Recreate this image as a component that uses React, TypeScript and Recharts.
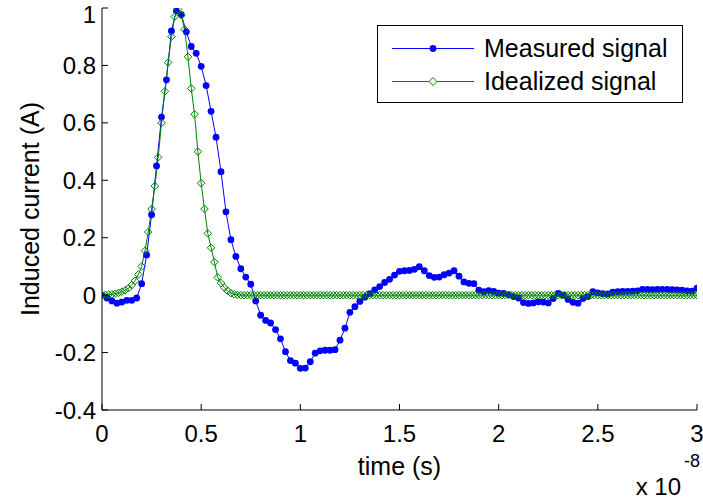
import React from 'react';
import { LineChart, Line, XAxis, YAxis, Label } from 'recharts';

// sampling steps (units of 1e-8 s)
const MEASURED_STEP = 0.025;
const IDEAL_STEP = 1 / 60;

const measuredValues = [
  0.0, -0.01, -0.02, -0.028, -0.024, -0.018, -0.018, -0.01, 0.04, 0.14,
  0.28, 0.45, 0.62, 0.75, 0.92, 0.99, 0.977, 0.917, 0.866, 0.842,
  0.797, 0.73, 0.64, 0.55, 0.43, 0.29, 0.193, 0.135, 0.092, 0.063,
  0.038, -0.02, -0.07, -0.088, -0.097, -0.12, -0.152, -0.197, -0.228, -0.237,
  -0.255, -0.254, -0.232, -0.202, -0.194, -0.192, -0.192, -0.19, -0.157, -0.115,
  -0.06, -0.04, -0.022, -0.007, 0.005, 0.018, 0.03, 0.044, 0.055, 0.07,
  0.083, 0.085, 0.086, 0.09, 0.099, 0.085, 0.068, 0.062, 0.063, 0.071,
  0.077, 0.085, 0.066, 0.046, 0.041, 0.04, 0.017, 0.012, 0.016, 0.013,
  0.007, 0.006, 0.002, -0.005, -0.01, -0.026, -0.029, -0.027, -0.023, -0.024,
  -0.027, -0.012, 0.006, 0.0, -0.015, -0.025, -0.028, -0.012, -0.005, 0.012,
  0.008, 0.005, 0.004, 0.01, 0.012, 0.013, 0.013, 0.014, 0.015, 0.02,
  0.02, 0.019, 0.02, 0.02, 0.02, 0.019, 0.018, 0.017, 0.015, 0.014,
  0.024,
];

const idealValues = [
  0, 0.001, 0.002, 0.003, 0.005, 0.008, 0.012, 0.017, 0.024, 0.035,
  0.05, 0.072, 0.1, 0.155, 0.22, 0.3, 0.38, 0.48, 0.6, 0.71,
  0.81, 0.9, 0.97, 0.995, 0.975, 0.925, 0.83, 0.72, 0.63, 0.5,
  0.39, 0.3, 0.215, 0.165, 0.115, 0.062, 0.042, 0.026, 0.015, 0.007,
  0.003, 0.001, 0, 0, 0, 0, 0, 0, 0, 0,
  0, 0, 0, 0, 0, 0, 0, 0, 0, 0,
  0, 0, 0, 0, 0, 0, 0, 0, 0, 0,
  0, 0, 0, 0, 0, 0, 0, 0, 0, 0,
  0, 0, 0, 0, 0, 0, 0, 0, 0, 0,
  0, 0, 0, 0, 0, 0, 0, 0, 0, 0,
  0, 0, 0, 0, 0, 0, 0, 0, 0, 0,
  0, 0, 0, 0, 0, 0, 0, 0, 0, 0,
  0, 0, 0, 0, 0, 0, 0, 0, 0, 0,
  0, 0, 0, 0, 0, 0, 0, 0, 0, 0,
  0, 0, 0, 0, 0, 0, 0, 0, 0, 0,
  0, 0, 0, 0, 0, 0, 0, 0, 0, 0,
  0, 0, 0, 0, 0, 0, 0, 0, 0, 0,
  0, 0, 0, 0, 0, 0, 0, 0, 0, 0,
  0,
];

const xTicks = [0, 0.5, 1, 1.5, 2, 2.5, 3];
const xTickLabels = ['0', '0.5', '1', '1.5', '2', '2.5', '3'];
const yTicks = [-0.4, -0.2, 0, 0.2, 0.4, 0.6, 0.8, 1];
const yTickLabels = ['-0.4', '-0.2', '0', '0.2', '0.4', '0.6', '0.8', '1'];

const measured = measuredValues.map((v, i) => ({ t: i * MEASURED_STEP, v }));
const idealized = idealValues.map((v, i) => ({ t: i * IDEAL_STEP, v }));

const FONT = '"Liberation Sans", Arial, sans-serif';
const BLUE = '#0000ff';
const GREEN = '#008000';
const TICK_LEN = 6;

const BottomTick = (props: any) => {
  const { x, y, index } = props;
  return (
    <g>
      <line x1={x} y1={y} x2={x} y2={y - TICK_LEN} stroke="#000" />
      <text x={x} y={y + 23} textAnchor="middle" dominantBaseline="central" fontSize={24} fontFamily={FONT} fill="#000">
        {xTickLabels[index]}
      </text>
    </g>
  );
};

const TopTick = (props: any) => {
  const { x, y } = props;
  return <line x1={x} y1={y} x2={x} y2={y + TICK_LEN} stroke="#000" />;
};

const LeftTick = (props: any) => {
  const { x, y, index } = props;
  // keep the top label inside the page
  const ty = Math.max(y, 14);
  return (
    <g>
      <line x1={x} y1={y} x2={x + TICK_LEN} y2={y} stroke="#000" />
      <text x={x - 6} y={ty} textAnchor="end" dominantBaseline="central" fontSize={24} fontFamily={FONT} fill="#000">
        {yTickLabels[index]}
      </text>
    </g>
  );
};

const RightTick = (props: any) => {
  const { x, y } = props;
  return <line x1={x} y1={y} x2={x - TICK_LEN} y2={y} stroke="#000" />;
};

const Diamond = (props: any) => {
  const { cx, cy, index } = props;
  const s = 3.8;
  return (
    <path
      key={`dia-${index}`}
      d={`M${cx},${cy - s}L${cx + s},${cy}L${cx},${cy + s}L${cx - s},${cy}Z`}
      fill="none"
      stroke={GREEN}
      strokeWidth={1}
    />
  );
};

const XLabel = (props: any) => {
  const vb = props.viewBox;
  return (
    <g fontFamily={FONT} fill="#000">
      <text x={vb.x + vb.width / 2} y={vb.y + 56} textAnchor="middle" dominantBaseline="central" fontSize={25}>
        time (s)
      </text>
      <text x={vb.x + vb.width - 16} y={vb.y + 76} textAnchor="end" dominantBaseline="central" fontSize={24}>
        x 10
      </text>
      <text x={vb.x + vb.width - 13} y={vb.y + 51} textAnchor="start" dominantBaseline="central" fontSize={18}>
        -8
      </text>
    </g>
  );
};

const YLabel = (props: any) => {
  const vb = props.viewBox;
  const cy = vb.y + vb.height / 2;
  return (
    <text
      x={30}
      y={cy}
      transform={`rotate(-90, 30, ${cy})`}
      textAnchor="middle"
      dominantBaseline="central"
      fontSize={25}
      fontFamily={FONT}
      fill="#000"
    >
      Induced current (A)
    </text>
  );
};

const legendItems = [
  { name: 'Measured signal', color: BLUE, marker: 'dot' },
  { name: 'Idealized signal', color: GREEN, marker: 'diamond' },
];

const ChartLegend = () => (
  <div
    style={{
      position: 'absolute',
      left: 377,
      top: 25,
      width: 306,
      height: 78,
      boxSizing: 'border-box',
      border: '1px solid #000',
      background: '#fff',
      fontFamily: FONT,
      fontSize: 25,
    }}
  >
    {legendItems.map((item, i) => (
      <div key={item.name} style={{ position: 'absolute', left: 0, top: 6 + i * 33, height: 33, display: 'flex', alignItems: 'center' }}>
        <svg width={106} height={33} style={{ display: 'block' }}>
          <line x1={14} y1={16.5} x2={96} y2={16.5} stroke={item.color} strokeWidth={1} />
          {item.marker === 'dot' ? (
            <circle cx={55} cy={16.5} r={3.4} fill={item.color} />
          ) : (
            <path d="M55,12.5L59,16.5L55,20.5L51,16.5Z" fill="#fff" stroke={item.color} />
          )}
        </svg>
        <span style={{ whiteSpace: 'nowrap', color: '#000' }}>{item.name}</span>
      </div>
    ))}
  </div>
);

export default function App() {
  return (
    <div style={{ position: 'absolute', left: 0, top: 0, width: 703, height: 502, background: '#fff' }}>
      <LineChart width={703} height={502} margin={{ top: 8, right: 6, bottom: 0, left: 0 }}>
        <XAxis
          dataKey="t"
          type="number"
          domain={[0, 3]}
          ticks={xTicks}
          allowDataOverflow
          height={92}
          tickSize={0}
          tickMargin={0}
          tick={<BottomTick />}
          axisLine={{ stroke: '#000' }}
          interval={0}
        >
          <Label content={<XLabel />} />
        </XAxis>
        <XAxis
          xAxisId="top"
          orientation="top"
          dataKey="t"
          type="number"
          domain={[0, 3]}
          ticks={xTicks}
          allowDataOverflow
          height={0}
          tickSize={0}
          tickMargin={0}
          tick={<TopTick />}
          axisLine={{ stroke: '#000' }}
          interval={0}
        />
        <YAxis
          type="number"
          domain={[-0.4, 1]}
          ticks={yTicks}
          allowDataOverflow
          width={102}
          tickSize={0}
          tickMargin={0}
          tick={<LeftTick />}
          axisLine={{ stroke: '#000' }}
          interval={0}
        >
          <Label content={<YLabel />} />
        </YAxis>
        <YAxis
          yAxisId="right"
          orientation="right"
          type="number"
          domain={[-0.4, 1]}
          ticks={yTicks}
          allowDataOverflow
          width={0}
          tickSize={0}
          tickMargin={0}
          tick={<RightTick />}
          axisLine={{ stroke: '#000' }}
          interval={0}
        />
        <Line
          data={measured}
          dataKey="v"
          type="linear"
          stroke={BLUE}
          strokeWidth={1}
          dot={{ r: 3.4, fill: BLUE, stroke: 'none' }}
          isAnimationActive={false}
        />
        <Line
          data={idealized}
          dataKey="v"
          type="linear"
          stroke={GREEN}
          strokeWidth={1}
          dot={<Diamond />}
          isAnimationActive={false}
        />
      </LineChart>
      <ChartLegend />
    </div>
  );
}
